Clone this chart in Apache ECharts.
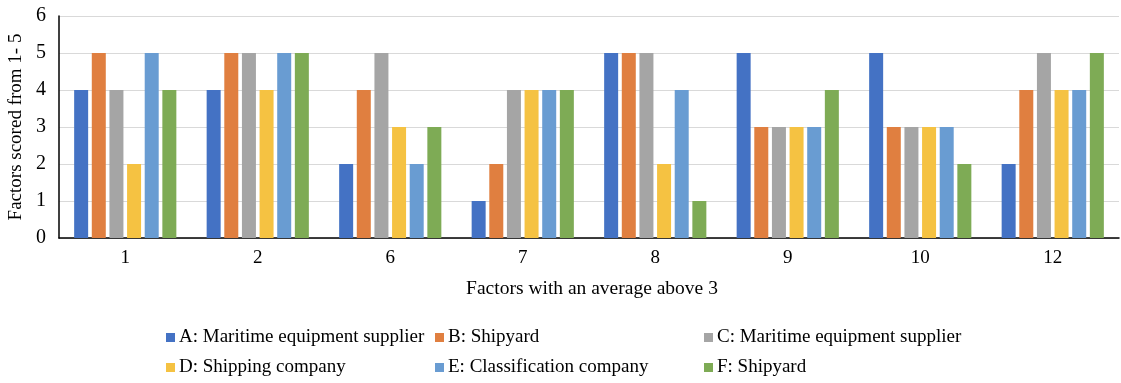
<!DOCTYPE html>
<html><head><meta charset="utf-8">
<script src="https://cdn.jsdelivr.net/npm/echarts@6/dist/echarts.min.js"></script>
<style>html,body{margin:0;padding:0;background:#fff}#c{width:1121px;height:383px}</style>
</head><body><div id="c"></div>
<script>
const categories = ['1','2','6','7','8','9','10','12'];
const seriesNames = ['A: Maritime equipment supplier','B: Shipyard','C: Maritime equipment supplier','D: Shipping company','E: Classification company','F: Shipyard'];
const valuesA = [4,4,2,1,5,5,5,2];
const valuesB = [5,5,4,2,5,3,3,4];
const valuesC = [4,5,5,4,5,3,3,5];
const valuesD = [2,4,3,4,2,3,3,4];
const valuesE = [5,5,2,4,4,3,3,4];
const valuesF = [4,5,3,4,1,4,2,5];
const colors = ['#4472C4','#E07F40','#A5A5A5','#F5C242','#699CD2','#7EAB55'];
const allValues = [valuesA,valuesB,valuesC,valuesD,valuesE,valuesF];
const font = '"Liberation Serif", "Times New Roman", serif';
const chart = echarts.init(document.getElementById('c'));
const series = allValues.map((v,i)=>({
  name: seriesNames[i], type:'bar', data:v, barWidth:14, barGap:'26%',
  itemStyle:{color:colors[i]}
}));
const legendLefts = [161,430,699];
const legendTops = [323,353];
const legends = seriesNames.map((n,i)=>({
  left: legendLefts[i%3], top: legendTops[Math.floor(i/3)],
  itemWidth:9, itemHeight:9, icon:'rect', data:[n], selectedMode:false,
  textStyle:{fontFamily:font, fontSize:19, color:'#000', padding:[0,0,0,-1]}
}));
chart.setOption({
  animation:false,
  color: colors,
  grid:{left:59, right:2, top:16, bottom:145, containLabel:false, outerBoundsMode:'none'},
  xAxis:{type:'category', data:categories,
    axisLine:{lineStyle:{color:'#000', width:1.5}}, axisTick:{show:false},
    axisLabel:{fontFamily:font, fontSize:19, color:'#000', margin:11},
    name:'Factors with an average above 3', nameLocation:'middle', nameGap:41,
    nameTextStyle:{fontFamily:font, fontSize:19.5, color:'#000', padding:[0,0,0,6]}},
  yAxis:{type:'value', min:0, max:6, interval:1,
    axisLine:{show:true, lineStyle:{color:'#000', width:1.5}}, axisTick:{show:false},
    splitLine:{lineStyle:{color:'#D9D9D9', width:1}},
    axisLabel:{fontFamily:font, fontSize:20, color:'#000', margin:13},
    name:'Factors scored from 1- 5', nameLocation:'middle', nameGap:32,
    nameTextStyle:{fontFamily:font, fontSize:19, color:'#000'}},
  legend: legends,
  series: series
});
</script></body></html>
